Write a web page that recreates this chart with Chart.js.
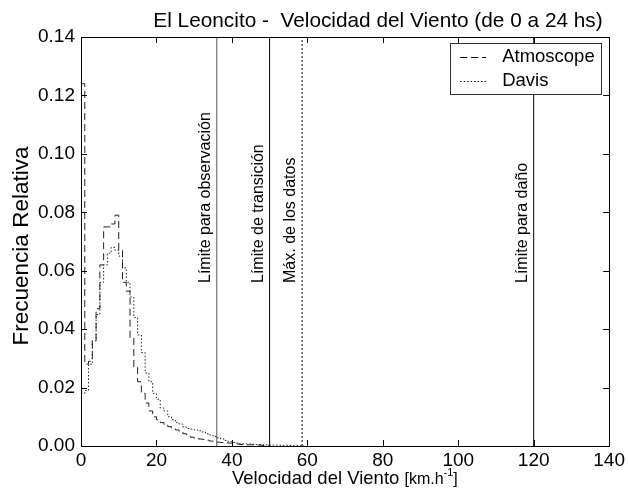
<!DOCTYPE html>
<html><head><meta charset="utf-8">
<script src="https://cdn.jsdelivr.net/npm/chart.js@4/dist/chart.umd.min.js"></script>
<style>html,body{margin:0;padding:0;background:#fff}#c{display:block}</style>
</head><body>
<canvas id="c" width="628" height="489"></canvas>
<script>
const binWidth = 1; // km/h
const atmoscope = [0.124,0.028,0.029,0.036,0.047,0.062,0.075,0.075,0.076,0.079,0.067,0.056,0.053,0.037,0.027,0.022,0.018,0.0147,0.012,0.010,0.009,0.008,0.0072,0.0066,0.006,0.0055,0.005,0.0042,0.0034,0.003,0.0025,0.0024,0.0023,0.002,0.0017,0.0015,0.0013,0.0012,0.0011,0.001,0.0008,0.0007,0.0005,0.0005,0.0004,0.0004,0.0003,0.0003,0.0002,0.0002];
const davis = [0.018,0.019,0.028,0.036,0.045,0.056,0.062,0.066,0.068,0.067,0.065,0.061,0.056,0.051,0.044,0.038,0.032,0.025,0.022,0.018,0.016,0.013,0.012,0.010,0.009,0.008,0.0075,0.0065,0.006,0.0058,0.0055,0.0052,0.0048,0.0042,0.0038,0.0033,0.0028,0.0024,0.0019,0.0015,0.0012,0.001,0.0008,0.0007,0.0007,0.0006,0.0005,0.0005,0.0004,0.0004,0.0003,0.0003,0.0003,0.0002,0.0002,0.0002,0.0001,0.0001,0.0001];
const limitValues = [36, 50, 58.6, 120];
const limitLabels = ['Límite para observación', 'Límite de transición', 'Máx. de los datos', 'Límite para daño'];
const limitColors = ['#555555', '#000000', '#000000', '#000000'];
const limitDashes = [[], [], [2, 2], []];
const xTicks = [0, 20, 40, 60, 80, 100, 120, 140];
const yTicks = [0, 0.02, 0.04, 0.06, 0.08, 0.10, 0.12, 0.14];
const titleText = 'El Leoncito -  Velocidad del Viento (de 0 a 24 hs)';
const xTitle = 'Velocidad del Viento ';
const yTitle = 'Frecuencia Relativa';

function steps(vals) {
  const pts = vals.map((v, i) => ({x: i * binWidth, y: v}));
  pts.push({x: vals.length * binWidth, y: 0});
  return pts;
}

const datasets = [
  {label: 'Atmoscope', data: steps(atmoscope), stepped: 'before', borderColor: '#222', borderWidth: 1, borderDash: [7, 4], pointRadius: 0, fill: false},
  {label: 'Davis', data: steps(davis), stepped: 'before', borderColor: '#222', borderWidth: 1, borderDash: [1.5, 2], pointRadius: 0, fill: false}
];
limitValues.forEach((v, i) => datasets.push({
  label: limitLabels[i], data: [{x: v, y: 0}, {x: v, y: 0.14}], borderColor: limitColors[i],
  borderWidth: 1, borderDash: limitDashes[i], pointRadius: 0, fill: false
}));

const FONT = '"Liberation Sans", Arial, sans-serif';

const deco = {
  id: 'deco',
  afterDraw(chart) {
    const ctx = chart.ctx, a = chart.chartArea, xs = chart.scales.x, ys = chart.scales.y;
    ctx.save();
    ctx.strokeStyle = '#000'; ctx.lineWidth = 1; ctx.setLineDash([]);
    ctx.strokeRect(Math.round(a.left) + 0.5, Math.round(a.top) + 0.5, Math.round(a.right - a.left), Math.round(a.bottom - a.top));
    ctx.beginPath();
    xTicks.forEach(t => { const p = Math.round(xs.getPixelForValue(t)) + 0.5;
      ctx.moveTo(p, a.bottom); ctx.lineTo(p, a.bottom - 6); ctx.moveTo(p, a.top); ctx.lineTo(p, a.top + 6); });
    yTicks.forEach(t => { const p = Math.round(ys.getPixelForValue(t)) + 0.5;
      ctx.moveTo(a.left, p); ctx.lineTo(a.left + 6, p); ctx.moveTo(a.right, p); ctx.lineTo(a.right - 6, p); });
    ctx.stroke();
    // limit labels (read upward, starting near 0.056)
    ctx.fillStyle = '#000'; ctx.font = '16px ' + FONT;
    ctx.textAlign = 'left'; ctx.textBaseline = 'bottom';
    limitValues.forEach((v, i) => {
      const px = xs.getPixelForValue(v), py = ys.getPixelForValue(0.0558);
      ctx.save(); ctx.translate(px - 3, py); ctx.rotate(-Math.PI / 2);
      ctx.fillText(limitLabels[i], 0, 0); ctx.restore();
    });
    // legend
    const lx = a.right - 159, ly = a.top + 6, lw = 151, lh = 51;
    ctx.fillStyle = '#fff'; ctx.fillRect(lx, ly, lw, lh);
    ctx.strokeStyle = '#333'; ctx.strokeRect(Math.round(lx) + 0.5, Math.round(ly) + 0.5, lw, lh);
    ctx.font = '18.5px ' + FONT; ctx.textAlign = 'left'; ctx.textBaseline = 'middle';
    [0, 1].forEach(i => {
      const ds = chart.data.datasets[i], yy = ly + 14 + i * 24;
      ctx.strokeStyle = '#000'; ctx.setLineDash(ds.borderDash); ctx.beginPath();
      ctx.moveTo(lx + 10, Math.round(yy) + 0.5); ctx.lineTo(lx + 36, Math.round(yy) + 0.5); ctx.stroke();
      ctx.setLineDash([]); ctx.fillStyle = '#000'; ctx.fillText(ds.label, lx + 52, yy);
    });
    // title
    ctx.font = '20.8px ' + FONT; ctx.textAlign = 'center'; ctx.textBaseline = 'middle'; ctx.fillStyle = '#000';
    ctx.fillText(titleText, 378, 21);
    // y title
    ctx.font = '22.5px ' + FONT;
    ctx.save(); ctx.translate(22, 246); ctx.rotate(-Math.PI / 2); ctx.fillText(yTitle, 0, 0); ctx.restore();
    // x title with superscript
    ctx.textAlign = 'left'; ctx.textBaseline = 'alphabetic';
    const f1 = '18.5px ' + FONT, f2 = '16px ' + FONT, f3 = '11px ' + FONT;
    ctx.font = f1; const w1 = ctx.measureText(xTitle).width;
    ctx.font = f2; const w2 = ctx.measureText('[km.h').width, w4 = ctx.measureText(']').width;
    ctx.font = f3; const w3 = ctx.measureText('-1').width;
    let x0 = 232; const by = 484;
    ctx.font = f1; ctx.fillText(xTitle, x0, by); x0 += w1;
    ctx.font = f2; ctx.fillText('[km.h', x0, by); x0 += w2;
    ctx.font = f3; ctx.fillText('-1', x0, by - 8); x0 += w3;
    ctx.font = f2; ctx.fillText(']', x0, by);
    ctx.restore();
  }
};

new Chart(document.getElementById('c'), {
  type: 'line',
  data: {datasets},
  options: {
    responsive: false, animation: false, devicePixelRatio: 1,
    layout: {padding: {left: 0, right: 17, top: 37, bottom: 0}},
    plugins: {legend: {display: false}, title: {display: false}, tooltip: {enabled: false}},
    scales: {
      x: {type: 'linear', min: 0, max: 140,
        afterFit: s => { s.height = 43; },
        afterBuildTicks: s => { s.ticks = xTicks.map(v => ({value: v})); },
        grid: {display: false, drawTicks: false}, border: {display: true, color: '#000'},
        ticks: {color: '#000', font: {family: FONT, size: 19}, padding: 3, maxRotation: 0, callback: v => String(v)}},
      y: {type: 'linear', min: 0, max: 0.14,
        afterFit: s => { s.width = 81; },
        afterBuildTicks: s => { s.ticks = yTicks.map(v => ({value: v})); },
        grid: {display: false, drawTicks: false}, border: {display: true, color: '#000'},
        ticks: {color: '#000', font: {family: FONT, size: 19}, padding: 6, callback: v => Number(v).toFixed(2)}}
    }
  },
  plugins: [deco]
});
</script>
</body></html>
